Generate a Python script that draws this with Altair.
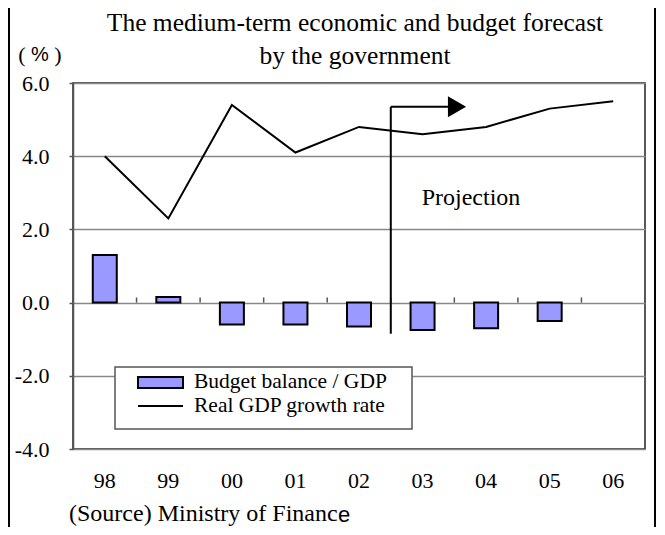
import altair as alt
import pandas as pd

# ---- data ----
years = ["98", "99", "00", "01", "02", "03", "04", "05", "06"]
budget = [1.3, 0.15, -0.6, -0.6, -0.65, -0.75, -0.7, -0.5, None]
gdp = [4.0, 2.3, 5.4, 4.1, 4.8, 4.6, 4.8, 5.3, 5.5]
series_names = ["Budget balance / GDP", "Real GDP growth rate"]
y_ticks = [-4, -2, 0, 2, 4, 6]
title_lines = ["The medium-term economic and budget forecast", "by the government"]
unit_parts = ["(", "%", ")"]
projection_label = "Projection"
projection_start = ["03"]
projection_bottom = [-0.85]
projection_top = [5.35]
source_main = "(Source) Ministry of Financ"
source_tail = "e"

SERIF = "Liberation Serif"
SANS = "Liberation Sans"
BAR_FILL = "#9999FF"

W, H = 572, 366

df = pd.DataFrame({"year": years, "budget": budget, "gdp": gdp})
bar_df = df.dropna(subset=["budget"])
proj_df = pd.DataFrame({"year": projection_start, "lo": projection_bottom, "hi": projection_top})
one = pd.DataFrame({"k": [0]})

xscale = alt.Scale(domain=years, paddingInner=0, paddingOuter=0)
yscale = alt.Scale(domain=[-4, 6], nice=False)

x_axis = alt.Axis(title=None, labelAngle=0, domain=False, ticks=False, grid=False,
                  labelPadding=21)
y_axis = alt.Axis(values=y_ticks, title=None,
                  labelExpr="(datum.value < 0 ? '-' : '') + format(abs(datum.value), '.1f')",
                  labelPadding=20,
                  tickSize=4, tickColor="#555", tickWidth=1.5,
                  domainColor="#555", domainWidth=1.5,
                  grid=True, gridColor="#888", gridWidth=1.5)

x_enc = alt.X("year:N", scale=xscale, sort=years, axis=x_axis)

bars = alt.Chart(bar_df).mark_bar(size=24, color=BAR_FILL, stroke="black", strokeWidth=2).encode(
    x=x_enc,
    y=alt.Y("budget:Q", scale=yscale, axis=y_axis),
    y2=alt.datum(0),
)

ticks = alt.Chart(df).mark_rule(color="#555", strokeWidth=1.5).encode(
    x=alt.X("year:N", scale=xscale, sort=years, bandPosition=1, axis=x_axis),
    y=alt.datum(0),
    y2=alt.datum(0.14),
)

line = alt.Chart(df).mark_line(color="black", strokeWidth=2).encode(
    x=x_enc,
    y=alt.Y("gdp:Q", scale=yscale, axis=y_axis),
)

proj_v = alt.Chart(proj_df).mark_rule(color="black", strokeWidth=2).encode(
    x=alt.X("year:N", scale=xscale, sort=years, bandPosition=0, axis=x_axis),
    y=alt.Y("lo:Q", scale=yscale, axis=y_axis),
    y2="hi:Q",
)
proj_h = alt.Chart(proj_df).mark_rule(color="black", strokeWidth=2).encode(
    x=alt.X("year:N", scale=xscale, sort=years, bandPosition=0, axis=x_axis),
    x2=alt.value(376),
    y=alt.Y("hi:Q", scale=yscale, axis=y_axis),
)
proj_head = alt.Chart(proj_df).mark_point(shape="triangle-right", filled=True, size=441,
                                          color="black", opacity=1).encode(
    x=alt.value(384),
    y=alt.Y("hi:Q", scale=yscale, axis=y_axis),
)
proj_text = alt.Chart(pd.DataFrame({"t": [projection_label]})).mark_text(
    font=SERIF, fontSize=24, color="black", align="center", baseline="alphabetic").encode(
    x=alt.value(398), y=alt.value(122), text="t:N")

# legend (drawn box)
leg_box = alt.Chart(one).mark_rect(fill="white", stroke="#555", strokeWidth=1.5).encode(
    x=alt.value(42), x2=alt.value(339), y=alt.value(284), y2=alt.value(346))
leg_sw = alt.Chart(one).mark_rect(fill=BAR_FILL, stroke="black", strokeWidth=2).encode(
    x=alt.value(65), x2=alt.value(110), y=alt.value(294), y2=alt.value(305))
leg_ln = alt.Chart(one).mark_rule(color="black", strokeWidth=2).encode(
    x=alt.value(65), x2=alt.value(110), y=alt.value(323))
leg_txt = alt.Chart(pd.DataFrame({"t": series_names, "yy": [305, 329]})).mark_text(
    font=SERIF, fontSize=21.5, color="black", align="left", baseline="alphabetic").encode(
    x=alt.value(121), y=alt.Y("yy:Q", scale=None), text="t:N")

# titles and notes
title_txt = alt.Chart(pd.DataFrame({"t": title_lines, "yy": [-52, -19]})).mark_text(
    font=SERIF, fontSize=25.5, color="black", align="center", baseline="alphabetic").encode(
    x=alt.value(282), y=alt.Y("yy:Q", scale=None), text="t:N")
unit_df = pd.DataFrame({"t": unit_parts, "xx": [-51, -33, -15]})
unit_paren = alt.Chart(unit_df[unit_df.t != "%"]).mark_text(
    font=SERIF, fontSize=22, color="black", align="center", baseline="alphabetic").encode(
    x=alt.X("xx:Q", scale=None), y=alt.value(-21), text="t:N")
unit_pct = alt.Chart(unit_df[unit_df.t == "%"]).mark_text(
    font=SANS, fontSize=20, color="black", align="center", baseline="alphabetic").encode(
    x=alt.X("xx:Q", scale=None), y=alt.value(-22), text="t:N")
src1 = alt.Chart(pd.DataFrame({"t": [source_main]})).mark_text(
    font=SERIF, fontSize=24, color="black", align="left", baseline="alphabetic").encode(
    x=alt.value(-4), y=alt.value(438), text="t:N")
src2 = alt.Chart(pd.DataFrame({"t": [source_tail]})).mark_text(
    font=SANS, fontSize=22, color="black", align="left", baseline="alphabetic").encode(
    x=alt.value(265), y=alt.value(439), text="t:N")

# outer frame sides
frame_l = alt.Chart(one).mark_rule(color="black", strokeWidth=2).encode(
    x=alt.value(-64), y=alt.value(-83), y2=alt.value(452))
frame_r = alt.Chart(one).mark_rule(color="black", strokeWidth=2).encode(
    x=alt.value(582), y=alt.value(-83), y2=alt.value(452))

chart = alt.layer(
    bars, ticks, line, proj_v, proj_h, proj_head, proj_text,
    leg_box, leg_sw, leg_ln, leg_txt,
    title_txt, unit_paren, unit_pct, src1, src2, frame_l, frame_r,
).properties(
    width=W, height=H,
    padding={"left": 65, "top": 75, "right": 12, "bottom": 78},
    autosize=alt.AutoSizeParams(type="none"),
    background="white",
).configure_view(
    stroke="#222", strokeWidth=1.5
).configure_axis(
    labelFont=SERIF, labelFontSize=22, labelColor="black"
)

chart.save("out.html", embed_options={"renderer": "svg", "actions": False})
